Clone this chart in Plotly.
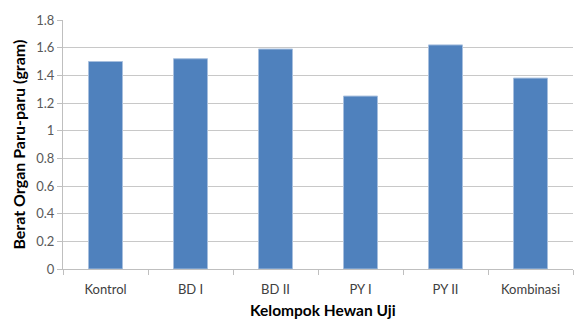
import plotly.graph_objects as go

# Lung organ weight per test group
groups = ["Kontrol", "BD I", "BD II", "PY I", "PY II", "Kombinasi"]
weights = [1.50, 1.52, 1.59, 1.25, 1.62, 1.38]
y_ticks = [0, 0.2, 0.4, 0.6, 0.8, 1, 1.2, 1.4, 1.6, 1.8]
y_tick_text = ["0", "0.2", "0.4", "0.6", "0.8", "1", "1.2", "1.4", "1.6", "1.8"]

FONT = "Lato"
TICK_GRAY = "#595959"

fig = go.Figure(
    go.Bar(
        x=groups,
        y=weights,
        width=0.4,
        marker=dict(color="#4F81BD", line=dict(color="#A7BFDE", width=1)),
    )
)

fig.update_layout(
    width=577,
    height=320,
    margin=dict(l=63, r=4, t=20, b=51),
    paper_bgcolor="white",
    plot_bgcolor="white",
    showlegend=False,
    font=dict(family=FONT, size=13, color=TICK_GRAY),
)

fig.update_xaxes(
    type="category",
    tickson="boundaries",
    ticks="outside",
    ticklen=5,
    tickcolor="#BFBFBF",
    ticklabelstandoff=8,
    showline=True,
    linecolor="#BFBFBF",
    linewidth=1,
    showgrid=False,
    tickfont=dict(family=FONT, size=13, color="#404040"),
)

fig.update_yaxes(
    range=[0, 1.8],
    tickvals=y_ticks,
    ticktext=y_tick_text,
    ticks="outside",
    ticklen=5,
    tickcolor="#BFBFBF",
    showline=True,
    linecolor="#BFBFBF",
    linewidth=1,
    showgrid=True,
    gridcolor="#C8C8C8",
    gridwidth=1,
    zeroline=False,
    tickfont=dict(family=FONT, size=13, color=TICK_GRAY),
)

# Axis titles
fig.add_annotation(
    text="<b>Kelompok Hewan Uji</b>",
    xref="paper", yref="paper",
    x=0.51, y=-0.165,
    xanchor="center", yanchor="middle",
    showarrow=False,
    font=dict(family=FONT, size=15.5, color="black"),
)
fig.add_annotation(
    text="<b>Berat Organ Paru-paru (gram)</b>",
    xref="paper", yref="paper",
    x=-0.088, y=0.5,
    xanchor="center", yanchor="middle",
    textangle=-90,
    showarrow=False,
    font=dict(family=FONT, size=16, color="black"),
)

fig.write_html("out.html")
